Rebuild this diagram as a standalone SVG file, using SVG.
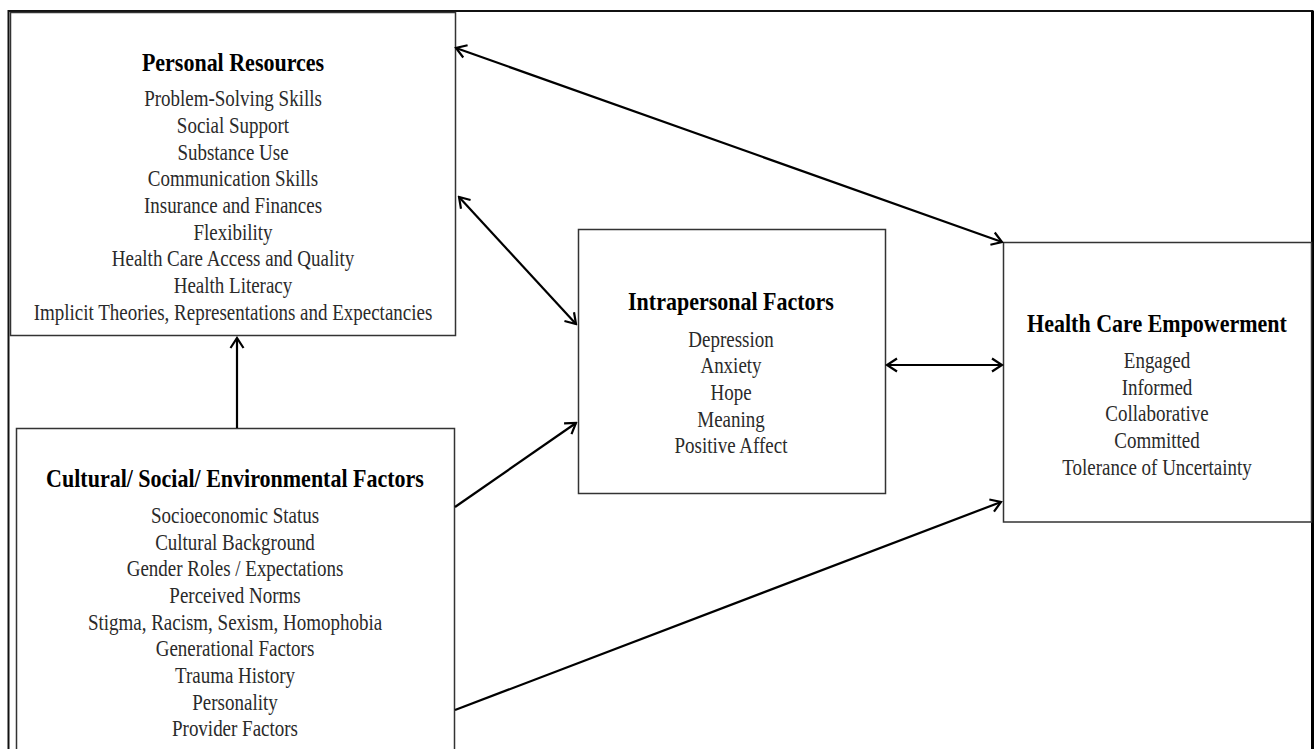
<svg xmlns="http://www.w3.org/2000/svg" width="1316" height="749" viewBox="0 0 1316 749">
  <style>
    .box { fill: #ffffff; stroke: #333333; stroke-width: 1.5; }
    .frame { fill: none; stroke: #111111; stroke-width: 2; }
    .link { fill: none; stroke: #000000; stroke-width: 2.2; }
    .title { font-family: "Liberation Serif", "Times New Roman", serif; font-size: 22px; font-weight: bold; fill: #000000; text-anchor: middle; }
    .item { font-family: "Liberation Serif", "Times New Roman", serif; font-size: 19px; fill: #2a2a2a; text-anchor: middle; }
  </style>
  <defs>
    <marker id="chev" markerUnits="userSpaceOnUse" viewBox="-13 -9 15 18" refX="0" refY="0" markerWidth="15" markerHeight="18" orient="auto-start-reverse">
      <path d="M-10,-6.5 L0,0 L-10,6.5" fill="none" stroke="#000000" stroke-width="2.2" stroke-linejoin="miter"/>
    </marker>
  </defs>

  <rect x="0" y="0" width="1316" height="749" fill="#ffffff"/>

  <!-- outer frame -->
  <path class="frame" d="M8.5,760 V11 H1312.5 V760"/>
  <line x1="1312.5" y1="11" x2="1312.5" y2="760" stroke="#000000" stroke-width="3"/>

  <!-- Personal Resources -->
  <g id="personal-resources">
    <rect class="box" x="10.5" y="12.5" width="445" height="323"/>
    <text class="title" transform="translate(233,71) scale(1,1.17)">Personal Resources</text>
    <text class="item" transform="translate(233,106) scale(1,1.17)">Problem-Solving Skills</text>
    <text class="item" transform="translate(233,133) scale(1,1.17)">Social Support</text>
    <text class="item" transform="translate(233,160) scale(1,1.17)">Substance Use</text>
    <text class="item" transform="translate(233,186) scale(1,1.17)">Communication Skills</text>
    <text class="item" transform="translate(233,213) scale(1,1.17)">Insurance and Finances</text>
    <text class="item" transform="translate(233,240) scale(1,1.17)">Flexibility</text>
    <text class="item" transform="translate(233,266) scale(1,1.17)">Health Care Access and Quality</text>
    <text class="item" transform="translate(233,293) scale(1,1.17)">Health Literacy</text>
    <text class="item" transform="translate(233,320) scale(1,1.17)">Implicit Theories, Representations and Expectancies</text>
  </g>

  <!-- Cultural / Social / Environmental Factors -->
  <g id="cultural-factors">
    <rect class="box" x="16.5" y="428.5" width="438" height="340"/>
    <text class="title" transform="translate(235,487) scale(1,1.17)">Cultural/ Social/ Environmental Factors</text>
    <text class="item" transform="translate(235,523) scale(1,1.17)">Socioeconomic Status</text>
    <text class="item" transform="translate(235,550) scale(1,1.17)">Cultural Background</text>
    <text class="item" transform="translate(235,576) scale(1,1.17)">Gender Roles / Expectations</text>
    <text class="item" transform="translate(235,603) scale(1,1.17)">Perceived Norms</text>
    <text class="item" transform="translate(235,630) scale(1,1.17)">Stigma, Racism, Sexism, Homophobia</text>
    <text class="item" transform="translate(235,656) scale(1,1.17)">Generational Factors</text>
    <text class="item" transform="translate(235,683) scale(1,1.17)">Trauma History</text>
    <text class="item" transform="translate(235,710) scale(1,1.17)">Personality</text>
    <text class="item" transform="translate(235,736) scale(1,1.17)">Provider Factors</text>
  </g>

  <!-- Intrapersonal Factors -->
  <g id="intrapersonal-factors">
    <rect class="box" x="578.5" y="229.5" width="307" height="264"/>
    <text class="title" transform="translate(731,310) scale(1,1.17)">Intrapersonal Factors</text>
    <text class="item" transform="translate(731,347) scale(1,1.17)">Depression</text>
    <text class="item" transform="translate(731,373) scale(1,1.17)">Anxiety</text>
    <text class="item" transform="translate(731,400) scale(1,1.17)">Hope</text>
    <text class="item" transform="translate(731,427) scale(1,1.17)">Meaning</text>
    <text class="item" transform="translate(731,453) scale(1,1.17)">Positive Affect</text>
  </g>

  <!-- Health Care Empowerment -->
  <g id="health-care-empowerment">
    <rect class="box" x="1003.5" y="242.5" width="308" height="279.5"/>
    <text class="title" transform="translate(1157,332) scale(1,1.17)">Health Care Empowerment</text>
    <text class="item" transform="translate(1157,368) scale(1,1.17)">Engaged</text>
    <text class="item" transform="translate(1157,395) scale(1,1.17)">Informed</text>
    <text class="item" transform="translate(1157,421) scale(1,1.17)">Collaborative</text>
    <text class="item" transform="translate(1157,448) scale(1,1.17)">Committed</text>
    <text class="item" transform="translate(1157,475) scale(1,1.17)">Tolerance of Uncertainty</text>
  </g>

  <!-- connectors -->
  <g id="connectors">
    <line class="link" x1="456" y1="48" x2="1002" y2="242" marker-start="url(#chev)" marker-end="url(#chev)"/>
    <line class="link" x1="459" y1="197" x2="576" y2="324" marker-start="url(#chev)" marker-end="url(#chev)"/>
    <line class="link" x1="455" y1="507" x2="576" y2="423" marker-end="url(#chev)"/>
    <line class="link" x1="887" y1="365" x2="1002" y2="365" marker-start="url(#chev)" marker-end="url(#chev)"/>
    <line class="link" x1="455" y1="710" x2="1001" y2="502" marker-end="url(#chev)"/>
    <line class="link" x1="237" y1="428" x2="237" y2="338" marker-end="url(#chev)"/>
  </g>
</svg>
